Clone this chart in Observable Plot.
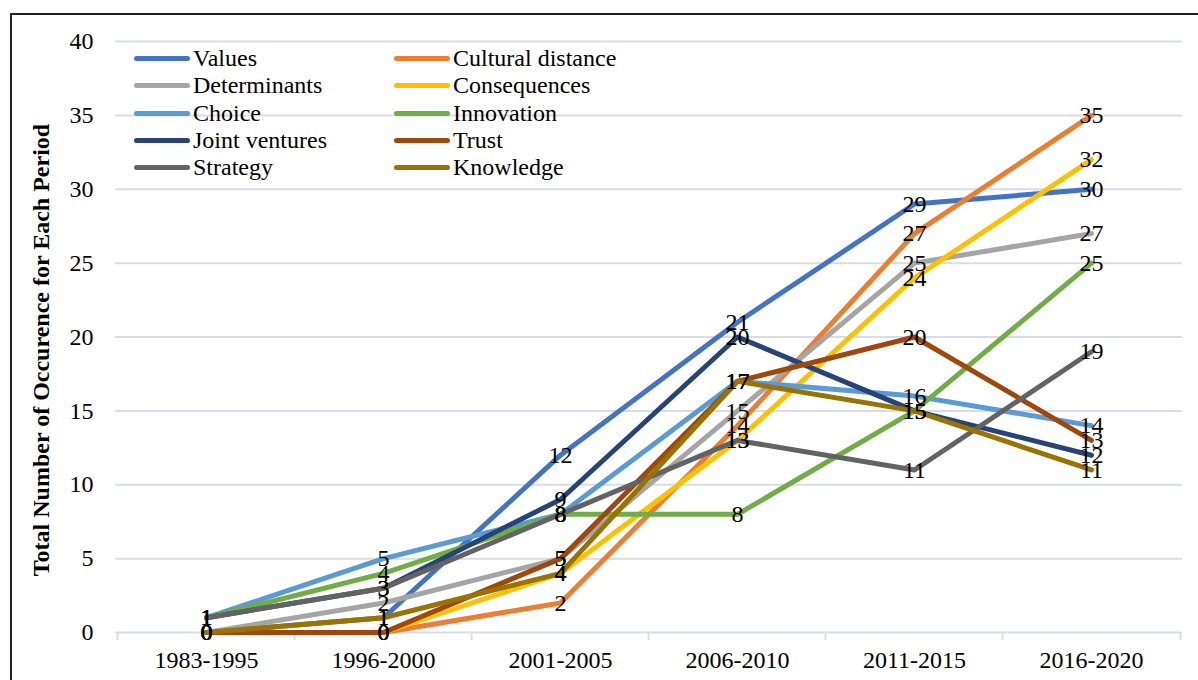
<!DOCTYPE html>
<html>
<head>
<meta charset="utf-8">
<script src="https://cdn.jsdelivr.net/npm/d3@7"></script>
<script src="https://cdn.jsdelivr.net/npm/@observablehq/plot@0.6"></script>
<style>
  body { margin: 0; background: #fff; }
  #wrap { position: relative; width: 1198px; height: 680px; overflow: hidden;
          font-family: "Liberation Serif", "DejaVu Serif", serif; color: #000; }
  #wrap svg { position: absolute; left: 0; top: 0; }
  #wrap svg, #wrap svg text { font-family: "Liberation Serif", "DejaVu Serif", serif !important; }
  #frame { position: absolute; left: 10px; top: 13px; width: 1300px; height: 800px;
           border: 2px solid #222; box-sizing: border-box; pointer-events: none; }
  #ytitle { position: absolute; left: 41px; top: 350px; font-size: 24px; font-weight: bold;
            white-space: nowrap; transform: translate(-50%, -50%) rotate(-90deg); }
  #legend { position: absolute; left: 134px; top: 45px; display: grid;
            grid-template-columns: 260px auto; font-size: 24px; }
  #legend .item { display: flex; align-items: center; height: 27.3px; }
  #legend .swatch { width: 56px; height: 5px; border-radius: 3px; margin-right: 3px; }
</style>
</head>
<body>
<div id="wrap">
  <div id="chart"></div>
  <div id="legend"></div>
  <div id="ytitle"></div>
  <div id="frame"></div>
</div>
<script>
// Periods on the x axis
const categories = ["1983-1995", "1996-2000", "2001-2005", "2006-2010", "2011-2015", "2016-2020"];

// Occurrences per period for each keyword
const values = [0, 1, 12, 21, 29, 30];
const culturalDistance = [0, 0, 2, 14, 27, 35];
const determinants = [0, 2, 5, 15, 25, 27];
const consequences = [0, 0, 4, 13, 24, 32];
const choice = [1, 5, 8, 17, 16, 14];
const innovation = [1, 4, 8, 8, 15, 25];
const jointVentures = [1, 3, 9, 20, 15, 12];
const trust = [0, 0, 5, 17, 20, 13];
const strategy = [1, 3, 8, 13, 11, 19];
const knowledge = [0, 1, 4, 17, 15, 11];

const seriesNames = ["Values", "Cultural distance", "Determinants", "Consequences", "Choice",
                     "Innovation", "Joint ventures", "Trust", "Strategy", "Knowledge"];
const seriesValues = [values, culturalDistance, determinants, consequences, choice,
                      innovation, jointVentures, trust, strategy, knowledge];
const seriesColors = ["#4472C4", "#ED7D31", "#A5A5A5", "#FFC000", "#5B9BD5",
                      "#70AD47", "#264478", "#9E480E", "#636363", "#997300"];

const yTicks = [0, 5, 10, 15, 20, 25, 30, 35, 40];
const yTitle = "Total Number of Occurence for Each Period";

const rows = seriesNames.flatMap((name, i) =>
  categories.map((period, j) => ({series: name, period, count: seriesValues[i][j]})));

const W = 1198, H = 680;
const mLeft = 115, mRight = 16, mTop = 41, mBottom = 48;
const step = (W - mLeft - mRight) / categories.length;
const gridColor = "#D9DDE3";
const serif = "'Liberation Serif', 'DejaVu Serif', serif";

const chart = Plot.plot({
  width: W,
  height: H,
  marginLeft: mLeft,
  marginRight: mRight,
  marginTop: mTop,
  marginBottom: mBottom,
  style: {fontFamily: serif, background: "transparent", overflow: "visible"},
  x: {type: "point", domain: categories, padding: 0.5},
  y: {domain: [0, 40]},
  color: {domain: seriesNames, range: seriesColors},
  marks: [
    Plot.gridY(yTicks, {stroke: gridColor, strokeOpacity: 1, strokeWidth: 2}),
    Plot.axisY(yTicks, {tickSize: 0, tickPadding: 22, fontSize: 24, label: null}),
    Plot.axisX({tickSize: 0, tickPadding: 18, fontSize: 24, label: null}),
    // tick marks sit between categories
    Plot.axisX({ticks: categories, tickSize: 8, tickFormat: () => "", stroke: gridColor, strokeWidth: 2, dx: -step / 2, label: null}),
    Plot.axisX({ticks: categories.slice(-1), tickSize: 8, tickFormat: () => "", stroke: gridColor, strokeWidth: 2, dx: step / 2, label: null}),
    Plot.line(rows, {x: "period", y: "count", z: "series", stroke: "series",
                     strokeWidth: 5, strokeLinecap: "round", strokeLinejoin: "round"}),
    Plot.text(rows, {x: "period", y: "count", text: d => String(d.count), fill: "#000", fontSize: 24})
  ]
});
document.getElementById("chart").appendChild(chart);

// Legend, two columns in series order
const legend = document.getElementById("legend");
seriesNames.forEach((name, i) => {
  const item = document.createElement("div");
  item.className = "item";
  const sw = document.createElement("span");
  sw.className = "swatch";
  sw.style.background = seriesColors[i];
  const label = document.createElement("span");
  label.textContent = name;
  item.appendChild(sw);
  item.appendChild(label);
  legend.appendChild(item);
});

document.getElementById("ytitle").textContent = yTitle;
</script>
</body>
</html>
